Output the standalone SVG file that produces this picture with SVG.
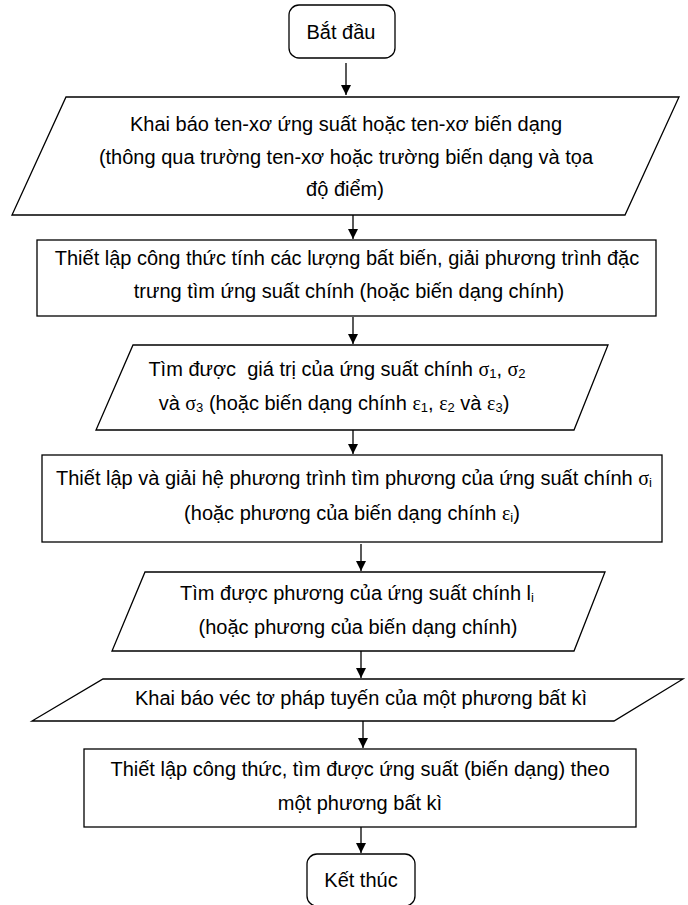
<svg xmlns="http://www.w3.org/2000/svg" width="688" height="905" viewBox="0 0 688 905">
<style>
.s{fill:#fff;stroke:#000;stroke-width:1.3}
.t{font-family:"Liberation Sans",Arial,sans-serif;font-size:20px;fill:#000;text-anchor:middle}
.g{font-family:"Liberation Serif","Times New Roman",serif;font-size:20px}
.sb{font-size:13px}
.c{stroke:#000;stroke-width:1.3;fill:none}
</style>
<defs>
<marker id="ah" viewBox="0 0 10 10" refX="10" refY="5" markerWidth="10" markerHeight="12" markerUnits="userSpaceOnUse" orient="auto">
<path d="M0,0 L10,5 L0,10 z" fill="#000"/>
</marker>
</defs>
<rect width="688" height="905" fill="#fff"/>
<g id="connectors">
<line class="c" x1="346" y1="63" x2="346" y2="95" marker-end="url(#ah)"/>
<line class="c" x1="353" y1="215" x2="353" y2="239" marker-end="url(#ah)"/>
<line class="c" x1="353" y1="317" x2="353" y2="344" marker-end="url(#ah)"/>
<line class="c" x1="353" y1="430" x2="353" y2="454" marker-end="url(#ah)"/>
<line class="c" x1="361" y1="544" x2="361" y2="571" marker-end="url(#ah)"/>
<line class="c" x1="361" y1="651" x2="361" y2="678" marker-end="url(#ah)"/>
<line class="c" x1="363" y1="721" x2="363" y2="748" marker-end="url(#ah)"/>
<line class="c" x1="361" y1="827" x2="361" y2="853" marker-end="url(#ah)"/>
</g>
<g id="start">
<rect class="s" x="289" y="5" width="106" height="53" rx="10"/>
<text class="t" x="341" y="39">Bắt đầu</text>
</g>
<g id="input1">
<polygon class="s" points="66,97 679,97 625,215 12,215"/>
<text class="t" x="346" y="131">Khai báo ten-xơ ứng suất hoặc ten-xơ biến dạng</text>
<text class="t" x="346" y="164">(thông qua trường ten-xơ hoặc trường biến dạng và tọa</text>
<text class="t" x="345" y="196">độ điểm)</text>
</g>
<g id="process1">
<rect class="s" x="37" y="240" width="619" height="76"/>
<text class="t" x="347" y="265">Thiết lập công thức tính các lượng bất biến, giải phương trình đặc</text>
<text class="t" x="349" y="298">trưng tìm ứng suất chính (hoặc biến dạng chính)</text>
</g>
<g id="output1">
<polygon class="s" points="133,345 608,345 574,430 96,430"/>
<text class="t" x="337" y="376" xml:space="preserve">Tìm được  giá trị của ứng suất chính <tspan class="g">σ</tspan><tspan class="sb" dy="2">1</tspan><tspan dy="-2">, </tspan><tspan class="g">σ</tspan><tspan class="sb" dy="2">2</tspan></text>
<text class="t" x="334" y="410">và <tspan class="g">σ</tspan><tspan class="sb" dy="2">3</tspan><tspan dy="-2"> (hoặc biến dạng chính </tspan><tspan class="g">ε</tspan><tspan class="sb" dy="2">1</tspan><tspan dy="-2">, </tspan><tspan class="g">ε</tspan><tspan class="sb" dy="2">2</tspan><tspan dy="-2"> và </tspan><tspan class="g">ε</tspan><tspan class="sb" dy="2">3</tspan><tspan dy="-2">)</tspan></text>
</g>
<g id="process2">
<rect class="s" x="42" y="455" width="620" height="87"/>
<text class="t" x="354" y="485">Thiết lập và giải hệ phương trình tìm phương của ứng suất chính <tspan class="g">σ</tspan><tspan class="sb" dy="2">i</tspan></text>
<text class="t" x="352" y="520">(hoặc phương của biến dạng chính <tspan class="g">ε</tspan><tspan class="sb" dy="2">i</tspan><tspan dy="-2">)</tspan></text>
</g>
<g id="output2">
<polygon class="s" points="145,572 605,572 574,651 112,651"/>
<text class="t" x="357" y="600">Tìm được phương của ứng suất chính l<tspan class="sb" dy="2">i</tspan></text>
<text class="t" x="358" y="634">(hoặc phương của biến dạng chính)</text>
</g>
<g id="input2">
<polygon class="s" points="103,679 683,679 614,721 32,721"/>
<text class="t" x="361" y="705">Khai báo véc tơ pháp tuyến của một phương bất kì</text>
</g>
<g id="process3">
<rect class="s" x="84" y="749" width="552" height="78"/>
<text class="t" x="360" y="776">Thiết lập công thức, tìm được ứng suất (biến dạng) theo</text>
<text class="t" x="360" y="810">một phương bất kì</text>
</g>
<g id="end">
<rect class="s" x="307" y="854" width="108" height="52" rx="10"/>
<text class="t" x="361" y="887">Kết thúc</text>
</g>
</svg>
